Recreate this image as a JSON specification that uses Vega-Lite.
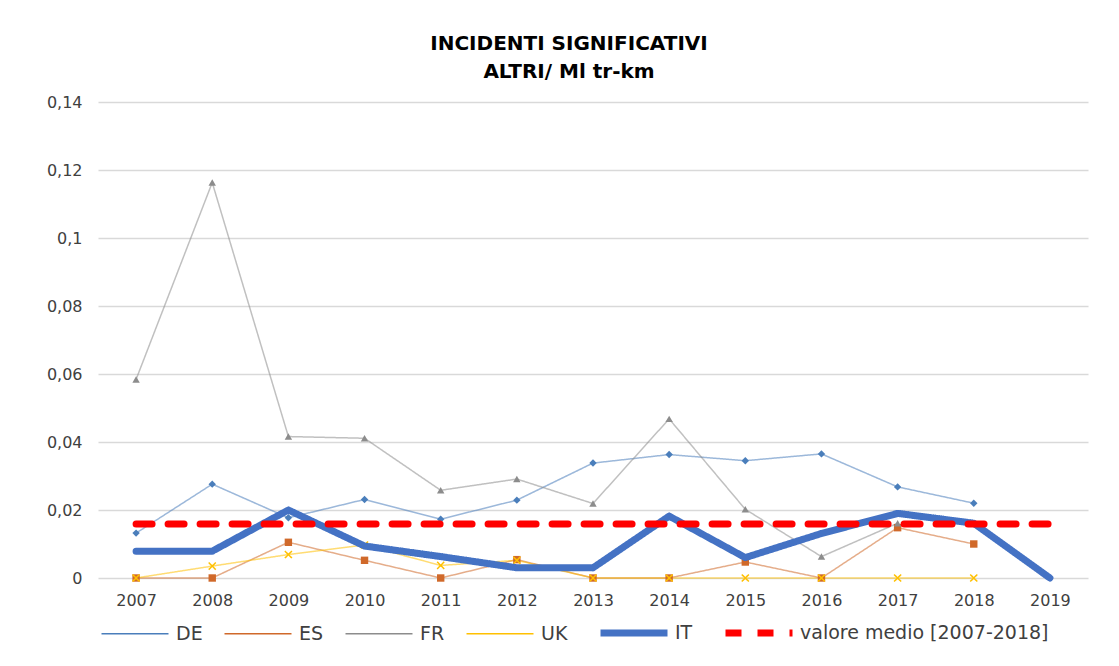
{
  "$schema": "https://vega.github.io/schema/vega-lite/v6.json",
  "width": 990,
  "height": 476,
  "autosize": {"type": "none"},
  "padding": {"left": 98, "top": 102, "right": 31, "bottom": 88},
  "background": "white",
  "title": {
    "text": ["INCIDENTI SIGNIFICATIVI", "ALTRI/ Ml tr-km"],
    "font": "DejaVu Sans",
    "fontSize": 20,
    "fontWeight": "bold",
    "color": "#000000",
    "anchor": "middle",
    "dx": -24,
    "lineHeight": 28,
    "offset": 12
  },
  "data": {
    "values": [
      {"year": "2007", "series": "DE", "value": 0.0132},
      {"year": "2008", "series": "DE", "value": 0.0276},
      {"year": "2009", "series": "DE", "value": 0.0177},
      {"year": "2010", "series": "DE", "value": 0.0231},
      {"year": "2011", "series": "DE", "value": 0.0173},
      {"year": "2012", "series": "DE", "value": 0.0229},
      {"year": "2013", "series": "DE", "value": 0.0338},
      {"year": "2014", "series": "DE", "value": 0.0363},
      {"year": "2015", "series": "DE", "value": 0.0345},
      {"year": "2016", "series": "DE", "value": 0.0365},
      {"year": "2017", "series": "DE", "value": 0.0268},
      {"year": "2018", "series": "DE", "value": 0.0220},
      {"year": "2007", "series": "ES", "value": 0},
      {"year": "2008", "series": "ES", "value": 0},
      {"year": "2009", "series": "ES", "value": 0.0105},
      {"year": "2010", "series": "ES", "value": 0.0052},
      {"year": "2011", "series": "ES", "value": 0},
      {"year": "2012", "series": "ES", "value": 0.0054},
      {"year": "2013", "series": "ES", "value": 0},
      {"year": "2014", "series": "ES", "value": 0},
      {"year": "2015", "series": "ES", "value": 0.0047},
      {"year": "2016", "series": "ES", "value": 0},
      {"year": "2017", "series": "ES", "value": 0.0148},
      {"year": "2018", "series": "ES", "value": 0.0100},
      {"year": "2007", "series": "FR", "value": 0.0584},
      {"year": "2008", "series": "FR", "value": 0.1163},
      {"year": "2009", "series": "FR", "value": 0.0416},
      {"year": "2010", "series": "FR", "value": 0.0411},
      {"year": "2011", "series": "FR", "value": 0.0258},
      {"year": "2012", "series": "FR", "value": 0.0291},
      {"year": "2013", "series": "FR", "value": 0.0219},
      {"year": "2014", "series": "FR", "value": 0.0468},
      {"year": "2015", "series": "FR", "value": 0.0202},
      {"year": "2016", "series": "FR", "value": 0.0063},
      {"year": "2017", "series": "FR", "value": 0.0161},
      {"year": "2007", "series": "UK", "value": 0},
      {"year": "2008", "series": "UK", "value": 0.0035},
      {"year": "2009", "series": "UK", "value": 0.0069},
      {"year": "2010", "series": "UK", "value": 0.0097},
      {"year": "2011", "series": "UK", "value": 0.0037},
      {"year": "2012", "series": "UK", "value": 0.0052},
      {"year": "2013", "series": "UK", "value": 0},
      {"year": "2014", "series": "UK", "value": 0},
      {"year": "2015", "series": "UK", "value": 0},
      {"year": "2016", "series": "UK", "value": 0},
      {"year": "2017", "series": "UK", "value": 0},
      {"year": "2018", "series": "UK", "value": 0},
      {"year": "2007", "series": "IT", "value": 0.0079},
      {"year": "2008", "series": "IT", "value": 0.0079},
      {"year": "2009", "series": "IT", "value": 0.0200},
      {"year": "2010", "series": "IT", "value": 0.0094},
      {"year": "2011", "series": "IT", "value": 0.0063},
      {"year": "2012", "series": "IT", "value": 0.0030},
      {"year": "2013", "series": "IT", "value": 0.0030},
      {"year": "2014", "series": "IT", "value": 0.0182},
      {"year": "2015", "series": "IT", "value": 0.0060},
      {"year": "2016", "series": "IT", "value": 0.0131},
      {"year": "2017", "series": "IT", "value": 0.0190},
      {"year": "2018", "series": "IT", "value": 0.0161},
      {"year": "2019", "series": "IT", "value": 0},
      {"year": "2007", "series": "valore medio [2007-2018]", "value": 0.0159},
      {"year": "2008", "series": "valore medio [2007-2018]", "value": 0.0159},
      {"year": "2009", "series": "valore medio [2007-2018]", "value": 0.0159},
      {"year": "2010", "series": "valore medio [2007-2018]", "value": 0.0159},
      {"year": "2011", "series": "valore medio [2007-2018]", "value": 0.0159},
      {"year": "2012", "series": "valore medio [2007-2018]", "value": 0.0159},
      {"year": "2013", "series": "valore medio [2007-2018]", "value": 0.0159},
      {"year": "2014", "series": "valore medio [2007-2018]", "value": 0.0159},
      {"year": "2015", "series": "valore medio [2007-2018]", "value": 0.0159},
      {"year": "2016", "series": "valore medio [2007-2018]", "value": 0.0159},
      {"year": "2017", "series": "valore medio [2007-2018]", "value": 0.0159},
      {"year": "2018", "series": "valore medio [2007-2018]", "value": 0.0159},
      {"year": "2019", "series": "valore medio [2007-2018]", "value": 0.0159}
    ]
  },
  "encoding": {
    "x": {
      "field": "year",
      "type": "ordinal",
      "scale": {"type": "point", "padding": 0.5},
      "axis": {
        "title": null,
        "labelAngle": 0,
        "ticks": false,
        "domain": false,
        "grid": false,
        "labelPadding": 14,
        "labelFont": "DejaVu Sans",
        "labelFontSize": 16,
        "labelColor": "#404040"
      }
    },
    "y": {
      "field": "value",
      "type": "quantitative",
      "scale": {"domain": [0, 0.14], "nice": false, "zero": true},
      "axis": {
        "title": null,
        "values": [0, 0.02, 0.04, 0.06, 0.08, 0.1, 0.12, 0.14],
        "labelExpr": "replace(toString(datum.value), '.', ',')",
        "ticks": false,
        "domain": false,
        "grid": true,
        "gridColor": "#d9d9d9",
        "gridWidth": 1.4,
        "labelPadding": 16,
        "labelFont": "DejaVu Sans",
        "labelFontSize": 16,
        "labelColor": "#404040"
      }
    },
    "color": {
      "field": "series",
      "type": "nominal",
      "scale": {
        "domain": ["DE", "ES", "FR", "UK", "IT", "valore medio [2007-2018]"],
        "range": ["#4a7ebb", "#d0692a", "#8c8c8c", "#ffc000", "#4472c4", "#ff0000"]
      },
      "legend": {
        "title": null,
        "orient": "bottom",
        "direction": "horizontal",
        "columns": 6,
        "symbolType": "stroke",
        "symbolSize": 4489,
        "labelFont": "DejaVu Sans",
        "labelFontSize": 19,
        "labelColor": "#404040",
        "labelOffset": 4,
        "columnPadding": 18,
        "offset": -12,
        "labelLimit": 400
      }
    },
    "strokeWidth": {
      "field": "series",
      "type": "nominal",
      "scale": {
        "type": "ordinal",
        "domain": ["DE", "ES", "FR", "UK", "IT", "valore medio [2007-2018]"],
        "range": [1.5, 1.5, 1.5, 1.5, 7, 7]
      },
      "legend": {
        "title": null,
        "orient": "bottom",
        "direction": "horizontal",
        "columns": 6,
        "symbolType": "stroke",
        "symbolSize": 4489,
        "labelFont": "DejaVu Sans",
        "labelFontSize": 19,
        "labelColor": "#404040",
        "labelOffset": 4,
        "columnPadding": 18,
        "offset": -12,
        "labelLimit": 400
      }
    },
    "strokeDash": {
      "field": "series",
      "type": "nominal",
      "scale": {
        "type": "ordinal",
        "domain": ["DE", "ES", "FR", "UK", "IT", "valore medio [2007-2018]"],
        "range": [[1, 0], [1, 0], [1, 0], [1, 0], [1, 0], [16, 16]]
      },
      "legend": {
        "title": null,
        "orient": "bottom",
        "direction": "horizontal",
        "columns": 6,
        "symbolType": "stroke",
        "symbolSize": 4489,
        "labelFont": "DejaVu Sans",
        "labelFontSize": 19,
        "labelColor": "#404040",
        "labelOffset": 4,
        "columnPadding": 18,
        "offset": -12,
        "labelLimit": 400
      }
    }
  },
  "layer": [
    {
      "transform": [{"filter": "indexof(['DE','ES','FR','UK'], datum.series) >= 0"}],
      "mark": {"type": "line", "strokeCap": "round", "strokeJoin": "round", "strokeOpacity": 0.55}
    },
    {
      "transform": [{"filter": "indexof(['DE','ES','FR'], datum.series) >= 0"}],
      "mark": {"type": "point", "filled": true, "opacity": 1, "size": 55},
      "encoding": {
        "shape": {
          "field": "series",
          "type": "nominal",
          "scale": {"domain": ["DE", "ES", "FR"], "range": ["diamond", "square", "triangle-up"]},
          "legend": null
        }
      }
    },
    {
      "transform": [{"filter": "datum.series === 'UK'"}],
      "mark": {"type": "point", "filled": false, "shape": "M-1,-1L1,1M-1,1L1,-1", "size": 50, "opacity": 1}
    },
    {
      "transform": [{"filter": "datum.series === 'IT'"}],
      "mark": {"type": "line", "strokeCap": "round", "strokeJoin": "round"}
    },
    {
      "transform": [{"filter": "datum.series === 'valore medio [2007-2018]'"}],
      "mark": {"type": "line", "strokeCap": "round", "strokeJoin": "round"}
    }
  ],
  "config": {
    "view": {"stroke": null}
  }
}
